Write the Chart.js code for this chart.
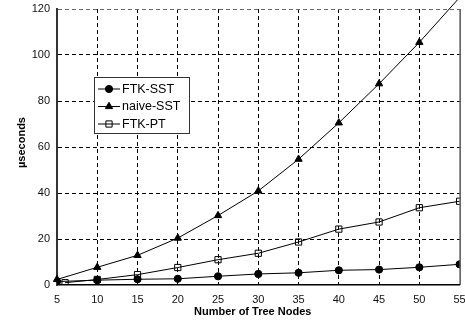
<!DOCTYPE html>
<html><head><meta charset="utf-8">
<script src="https://cdn.jsdelivr.net/npm/chart.js@4.4.0/dist/chart.umd.min.js"></script>
<style>html,body{margin:0;padding:0;background:#fff}#wrap{width:465px;height:324px;position:relative}</style>
</head><body><div id="wrap"><canvas id="c" width="465" height="324"></canvas></div>
<script>
// ---- data ----
const nodes    = [5, 10, 15, 20, 25, 30, 35, 40, 45, 50, 55];
const ptNodes  = [6, 10, 15, 20, 25, 30, 35, 40, 45, 50, 55];
const ftkSST   = [1.5, 2.1, 2.5, 2.7, 3.8, 4.8, 5.3, 6.4, 6.7, 7.7, 9.0];
const naiveSST = [2.4, 7.7, 12.9, 20.4, 30.2, 40.9, 54.7, 70.5, 87.5, 105.5, 125];
const ftkPT    = [1.0, 2.4, 4.5, 7.6, 11.0, 13.8, 18.7, 24.3, 27.4, 33.6, 36.4];
const seriesNames = ['FTK-SST', 'naive-SST', 'FTK-PT'];
const xTicks = [5, 10, 15, 20, 25, 30, 35, 40, 45, 50, 55];
const yTicks = [0, 20, 40, 60, 80, 100, 120];
const xTitle = 'Number of Tree Nodes';
const yTitle = 'µseconds';

const FONT = '"Liberation Sans", Arial, Helvetica, sans-serif';
const toXY = (xs, ys) => xs.map((x, i) => ({x: x, y: ys[i]}));

const styles = [
  {pointStyle: 'circle', pointRadius: 3.6, fill: '#000'},
  {pointStyle: 'triangle', pointRadius: 4.2, fill: '#000'},
  {pointStyle: 'rect', pointRadius: 4.4, fill: 'rgba(0,0,0,0)'}
];

const decor = {
  id: 'decor',
  afterDraw(chart) {
    const ctx = chart.ctx, a = chart.chartArea;
    ctx.save();
    // right border
    ctx.strokeStyle = '#000'; ctx.lineWidth = 1;
    ctx.beginPath(); ctx.moveTo(a.right + 0.5, a.top); ctx.lineTo(a.right + 0.5, a.bottom); ctx.stroke();
    // axis titles
    ctx.fillStyle = '#000';
    ctx.font = 'bold 11px ' + FONT;
    ctx.textAlign = 'center'; ctx.textBaseline = 'middle';
    ctx.fillText(xTitle, 252.7, 312);
    ctx.translate(22, 142.5); ctx.rotate(-Math.PI / 2);
    ctx.fillText(yTitle, 0, 0);
    ctx.restore();

    // legend
    ctx.save();
    const bx = 94.5, by = 77.5, bw = 95, bh = 56;
    ctx.fillStyle = '#fff'; ctx.fillRect(bx, by, bw, bh);
    ctx.strokeStyle = '#333'; ctx.lineWidth = 1; ctx.strokeRect(bx, by, bw, bh);
    const rows = [89, 106.5, 124];
    chart.data.datasets.forEach((ds, i) => {
      const y = rows[i];
      ctx.strokeStyle = '#000'; ctx.lineWidth = 1;
      ctx.beginPath(); ctx.moveTo(98, y); ctx.lineTo(120, y); ctx.stroke();
      ctx.fillStyle = styles[i].fill;
      ctx.strokeStyle = '#000';
      Chart.helpers.drawPoint(ctx, {
        pointStyle: styles[i].pointStyle, radius: styles[i].pointRadius, rotation: 0, borderWidth: 1
      }, 109, y);
      ctx.fillStyle = '#000';
      ctx.font = '12.5px ' + FONT;
      ctx.textAlign = 'left'; ctx.textBaseline = 'middle';
      ctx.fillText(ds.label, 122, y + 0.5);
    });
    ctx.restore();
  }
};

const datasets = [
  {label: seriesNames[0], data: toXY(nodes, ftkSST)},
  {label: seriesNames[1], data: toXY(nodes, naiveSST), clip: false},
  {label: seriesNames[2], data: toXY(ptNodes, ftkPT)}
].map((d, i) => Object.assign(d, {
  borderColor: '#000', borderWidth: 1, showLine: true, tension: 0,
  pointStyle: styles[i].pointStyle,
  pointRadius: (c) => (c.parsed && c.parsed.y > 120) ? 0 : styles[i].pointRadius,
  pointHoverRadius: styles[i].pointRadius,
  pointBorderWidth: 1,
  pointBorderColor: '#000',
  pointBackgroundColor: styles[i].fill
}));

new Chart(document.getElementById('c'), {
  type: 'scatter',
  data: {datasets},
  options: {
    responsive: false, animation: false, devicePixelRatio: 1,
    layout: {padding: {top: 9, right: 4, left: 0, bottom: 0}},
    plugins: {legend: {display: false}, tooltip: {enabled: false}},
    scales: {
      x: {
        type: 'linear', min: 5, max: 55,
        afterBuildTicks: (s) => { s.ticks = xTicks.map(v => ({value: v})); },
        afterFit: (s) => { s.height = 39; s.paddingLeft = 0; s.paddingRight = 0; },
        ticks: {color: '#111', font: {family: FONT, size: 11}, padding: 8, maxRotation: 0, autoSkip: false},
        grid: {
          drawTicks: false, lineWidth: 1,
          color: (c) => (c.tick && (c.tick.value === 5 || c.tick.value === 55)) ? 'rgba(0,0,0,0)' : '#000'
        },
        border: {display: true, color: '#000', width: 1.5, dash: [4, 3]}
      },
      y: {
        type: 'linear', min: 0, max: 120,
        afterBuildTicks: (s) => { s.ticks = yTicks.map(v => ({value: v})); },
        afterFit: (s) => { s.width = 57; s.paddingTop = 0; s.paddingBottom = 0; },
        ticks: {color: '#111', font: {family: FONT, size: 11}, padding: 7},
        grid: {
          drawTicks: false, lineWidth: 1,
          color: (c) => (c.tick && c.tick.value === 0) ? 'rgba(0,0,0,0)' : (c.tick && c.tick.value === 120 ? '#666' : '#000')
        },
        border: {display: true, color: '#333', width: 2, dash: [4, 3]}
      }
    }
  },
  plugins: [decor]
});
</script></body></html>
